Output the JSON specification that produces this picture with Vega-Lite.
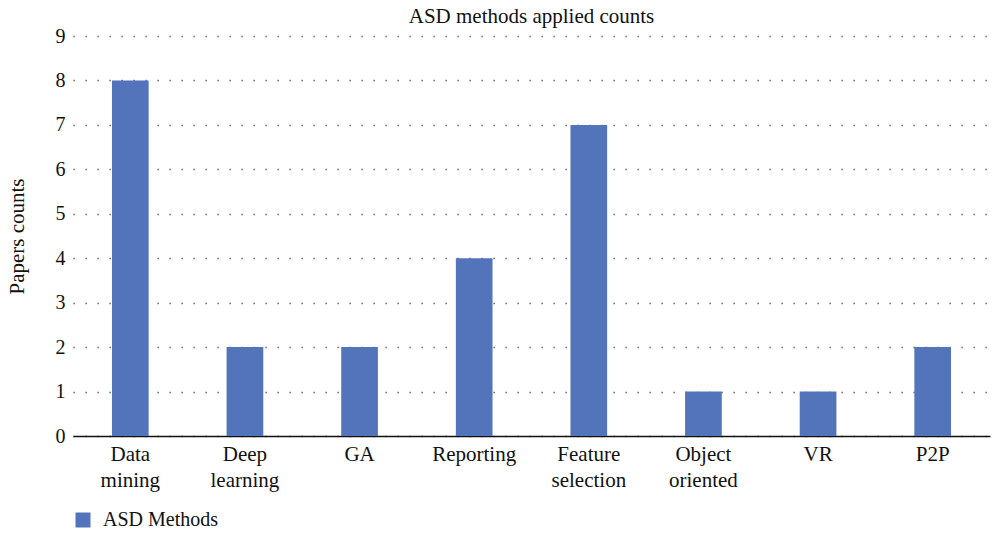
{
  "$schema": "https://vega.github.io/schema/vega-lite/v6.json",
  "autosize": "none",
  "width": 917,
  "height": 400,
  "padding": {"left": 73, "top": 36, "right": 2, "bottom": 97},
  "background": "white",
  "title": {
    "text": "ASD methods applied counts",
    "font": "Liberation Serif",
    "fontSize": 21,
    "fontWeight": "normal",
    "color": "#111",
    "anchor": "middle",
    "offset": -1
  },
  "config": {
    "view": {"stroke": null},
    "font": "Liberation Serif"
  },
  "data": {
    "values": [
      {"method": "Data mining", "count": 8, "series": "ASD Methods"},
      {"method": "Deep learning", "count": 2, "series": "ASD Methods"},
      {"method": "GA", "count": 2, "series": "ASD Methods"},
      {"method": "Reporting", "count": 4, "series": "ASD Methods"},
      {"method": "Feature selection", "count": 7, "series": "ASD Methods"},
      {"method": "Object oriented", "count": 1, "series": "ASD Methods"},
      {"method": "VR", "count": 1, "series": "ASD Methods"},
      {"method": "P2P", "count": 2, "series": "ASD Methods"}
    ]
  },
  "mark": {"type": "bar"},
  "encoding": {
    "x": {
      "field": "method",
      "type": "nominal",
      "sort": null,
      "scale": {"paddingInner": 0.68, "paddingOuter": 0.34},
      "axis": {
        "title": null,
        "labelAngle": 0,
        "labelFont": "Liberation Serif",
        "labelFontSize": 21,
        "labelColor": "#111",
        "labelLineHeight": 26,
        "labelPadding": 7,
        "labelExpr": "split(datum.label, ' ')",
        "ticks": false,
        "domainColor": "#111",
        "domainWidth": 1.5,
        "grid": false
      }
    },
    "y": {
      "field": "count",
      "type": "quantitative",
      "scale": {"domain": [0, 9], "nice": false},
      "axis": {
        "title": "Papers counts",
        "titleFont": "Liberation Serif",
        "titleFontSize": 21,
        "titleFontWeight": "normal",
        "titleColor": "#111",
        "titlePadding": 28,
        "values": [0, 1, 2, 3, 4, 5, 6, 7, 8, 9],
        "labelFont": "Liberation Serif",
        "labelFontSize": 20,
        "labelColor": "#111",
        "labelPadding": 8,
        "ticks": false,
        "domain": false,
        "grid": true,
        "gridColor": "#444",
        "gridDash": [1.2, 10.8],
        "gridWidth": 1.4
      }
    },
    "color": {
      "field": "series",
      "type": "nominal",
      "scale": {"range": ["#5374bb"]},
      "legend": {
        "title": null,
        "orient": "none",
        "legendX": 0,
        "legendY": 474,
        "symbolType": "square",
        "symbolSize": 225,
        "symbolStrokeWidth": 0,
        "labelFont": "Liberation Serif",
        "labelFontSize": 20,
        "labelColor": "#111",
        "labelOffset": 10
      }
    }
  }
}
